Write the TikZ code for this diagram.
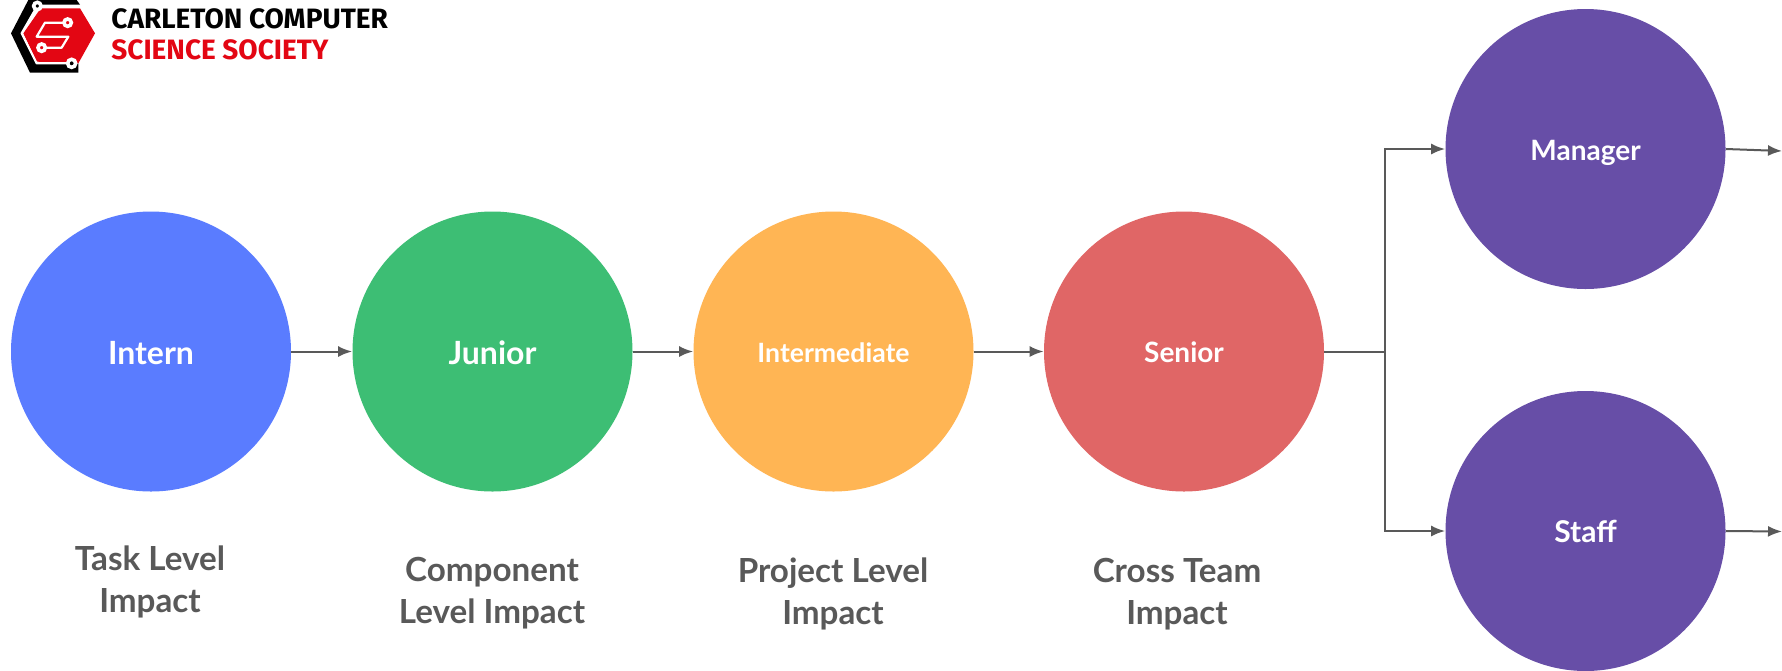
\documentclass[tikz,border=0pt]{standalone}
\usepackage{fontspec}
\setmainfont{Lato}
\newfontfamily\logofont{Fira Sans}
\usetikzlibrary{arrows.meta}
\definecolor{cblue}{HTML}{5A7CFF}
\definecolor{cgreen}{HTML}{3DBE74}
\definecolor{corange}{HTML}{FFB554}
\definecolor{cred}{HTML}{E06666}
\definecolor{cpurple}{HTML}{674EA7}
\definecolor{cgrey}{HTML}{595959}
\definecolor{lred}{HTML}{E30613}
\tikzset{
  x=0.5pt,y=-0.5pt,
  level/.style={circle,minimum size=140pt,inner sep=0pt,text=white,font=\fontsize{16}{18}\selectfont\bfseries},
  impact/.style={align=center,text=cgrey,font=\fontsize{16.6}{21}\selectfont\bfseries},
  link/.style={draw=cgrey,line width=1pt,-{Latex[length=7pt,width=5.5pt]}},
  logotext/.style={anchor=west,inner sep=0pt,font=\logofont\fontsize{14}{16}\selectfont\bfseries},
  logoline/.style={white,line width=1.1pt,line join=round},
  logoring/.style={white,line width=1.8pt}
}
\begin{document}
\begin{tikzpicture}
\useasboundingbox (0,0) rectangle (1782,670);
\fill[white] (0,0) rectangle (1782,670);
\node[level,fill=cblue] (intern) at (151,351.5) {\rule{0pt}{13.5pt}Intern};
\node[level,fill=cgreen] (junior) at (492.5,351.5) {\rule{0pt}{13.5pt}Junior};
\node[level,fill=corange,font=\fontsize{13.3}{15}\selectfont\bfseries] (inter) at (833.5,351.5) {\rule{0pt}{10.8pt}Intermediate};
\node[level,fill=cred,font=\fontsize{14}{16}\selectfont\bfseries] (senior) at (1184,351.5) {\rule{0pt}{11.2pt}Senior};
\node[level,fill=cpurple,font=\fontsize{14}{16}\selectfont\bfseries] (manager) at (1585.5,149) {\rule{0pt}{14.4pt}Manager};
\node[level,fill=cpurple,font=\fontsize{15}{17}\selectfont\bfseries] (staff) at (1585.5,531) {\rule{0pt}{12pt}Staff};
\coordinate (mout) at (1782,151);
\coordinate (sout) at (1782,531.5);
\coordinate (fork) at (1385,351.5);
\draw[link] (intern) -- (junior);
\draw[link] (junior) -- (inter);
\draw[link] (inter) -- (senior);
\draw[link] (senior.east) -- (fork) |- (manager.west);
\draw[link] (senior.east) -- (fork) |- (staff.west);
\draw[link] (manager.east) -- (mout);
\draw[link] (staff.east) -- (sout);
\node[impact] (t1) at (150,582) {Task Level\\Impact};
\node[impact] (t2) at (492,593) {Component\\Level Impact};
\node[impact] (t3) at (833,594) {Project Level\\Impact};
\node[impact] (t4) at (1177,594) {Cross Team\\Impact};
% logo
\begin{scope}[x=0.16667pt,y=-0.16667pt]
\fill (85,0) -- (33,100) -- (90,218) -- (235,218) -- (235,190) -- (110,190) -- (65,100) -- (110,20) -- (120,0) -- cycle;
\fill (110,0) -- (230,0) -- (240,14) -- (110,14) -- cycle;
\fill[lred] (122,25) -- (240,25) -- (285,100) -- (235,190) -- (110,185) -- (70,100) -- cycle;
\draw[logoline] (112,18) -- (65,100) -- (110,190) -- (215,190);
\draw[logoline] (203,68) -- (135,68) -- (110,110) -- (205,110) -- (185,143) -- (125,143);
\draw[logoring,fill=lred] (203,68) circle (11);
\draw[logoring,fill=lred] (125,143) circle (11);
\draw[logoring,fill=black] (112,18) circle (11);
\draw[logoring,fill=black] (215,190) circle (12);
\end{scope}
\node[logotext,text=black] (l1) at (111,19) {CARLETON COMPUTER};
\node[logotext,text=lred] (l2) at (111,50) {SCIENCE SOCIETY};
\end{tikzpicture}
\end{document}
